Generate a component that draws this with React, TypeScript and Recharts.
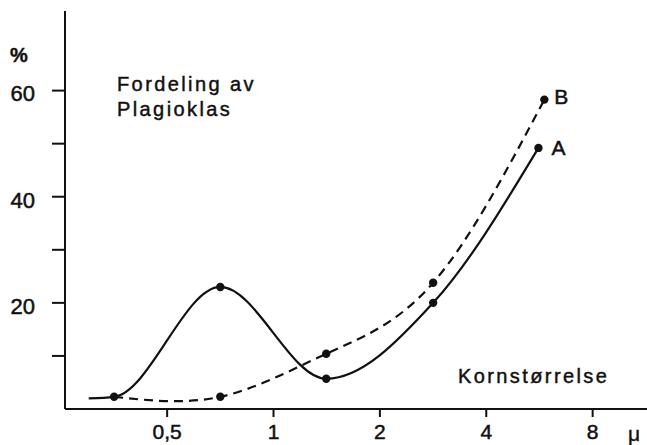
import { LineChart, Line, XAxis, YAxis, Label } from "recharts";

// grain size (μ), log axis
const sizeA = [0.3, 0.354, 0.707, 1.41, 2.83, 5.62];
const pctA = [2, 2.3, 23, 5.7, 20, 49.2];
const markedA = [false, true, true, true, true, true];

const sizeB = [0.354, 0.707, 1.41, 2.83, 5.84];
const pctB = [2.3, 2.3, 10.4, 23.8, 58.3];
const markedB = [false, true, true, true, true];

const xTicks = [0.5, 1, 2, 4, 8];
const yTicks = [10, 20, 30, 40, 50, 60];
const yLabeled = [20, 40, 60];

const dataA = sizeA.map((s, i) => ({ size: s, pct: pctA[i], marked: markedA[i] }));
const dataB = sizeB.map((s, i) => ({ size: s, pct: pctB[i], marked: markedB[i] }));

const ink = "#111";
const font = "'Liberation Sans', Arial, sans-serif";

const renderDot = (props: any) =>
  props.payload.marked ? (
    <circle key={`d-${props.index}`} cx={props.cx} cy={props.cy} r={4.2} fill={ink} />
  ) : (
    <g key={`d-${props.index}`} />
  );

const endLabel = (name: string, last: number, dx: number, dy: number) => (p: any) =>
  p.index === last ? (
    <text
      key={name}
      x={p.x + dx}
      y={p.y + dy}
      fontSize={21}
      fontFamily={font}
      fill={ink}
      stroke={ink}
      strokeWidth={0.5}
    >
      {name}
    </text>
  ) : (
    <g key={`${name}-${p.index}`} />
  );

export default function App() {
  return (
    <div style={{ position: "absolute", left: 0, top: 0, width: 647, height: 445, background: "#fff" }}>
      <LineChart width={647} height={445} margin={{ top: 11, right: 0, bottom: 0, left: 0 }}>
        <XAxis
          dataKey="size"
          type="number"
          scale="log"
          domain={[0.257, 11.4]}
          allowDataOverflow
          ticks={xTicks}
          tickFormatter={(v) => String(v).replace(".", ",")}
          height={36}
          tickSize={8}
          tickMargin={7}
          stroke={ink}
          strokeWidth={2}
          tick={{ fill: ink, fontSize: 21, fontFamily: font, stroke: ink, strokeWidth: 0.5 }}
        >
          <Label
            value="μ"
            position="insideRight"
            offset={7}
            dy={7}
            fill={ink}
            stroke={ink}
            strokeWidth={0.4}
            fontSize={21}
            fontFamily={font}
          />
        </XAxis>
        <YAxis
          type="number"
          domain={[0, 75]}
          ticks={yTicks}
          tickFormatter={(v) => (yLabeled.includes(v) ? String(v) : "")}
          width={65}
          tickSize={13}
          tickMargin={17}
          stroke={ink}
          strokeWidth={2}
          tick={{ fill: ink, fontSize: 22, fontFamily: font, dy: 3, stroke: ink, strokeWidth: 0.5 }}
        />
        <Line
          data={dataA}
          dataKey="pct"
          type="monotone"
          stroke={ink}
          strokeWidth={2.2}
          dot={renderDot}
          label={endLabel("A", dataA.length - 1, 13, 7)}
          isAnimationActive={false}
        />
        <Line
          data={dataB}
          dataKey="pct"
          type="natural"
          stroke={ink}
          strokeWidth={2.2}
          strokeDasharray="9 6"
          dot={renderDot}
          label={endLabel("B", dataB.length - 1, 10, 4)}
          isAnimationActive={false}
        />
      </LineChart>
      <svg width={647} height={445} style={{ position: "absolute", left: 0, top: 0, pointerEvents: "none" }}>
        <g fontFamily={font} fill={ink} stroke={ink} strokeWidth={0.45} fontSize={20} letterSpacing={2.4}>
          <text x={10} y={62} fontWeight="bold" letterSpacing={0}>%</text>
          <text x={117} y={91}>Fordeling av</text>
          <text x={117} y={116}>Plagioklas</text>
          <text x={458} y={383}>Kornstørrelse</text>
        </g>
      </svg>
    </div>
  );
}
